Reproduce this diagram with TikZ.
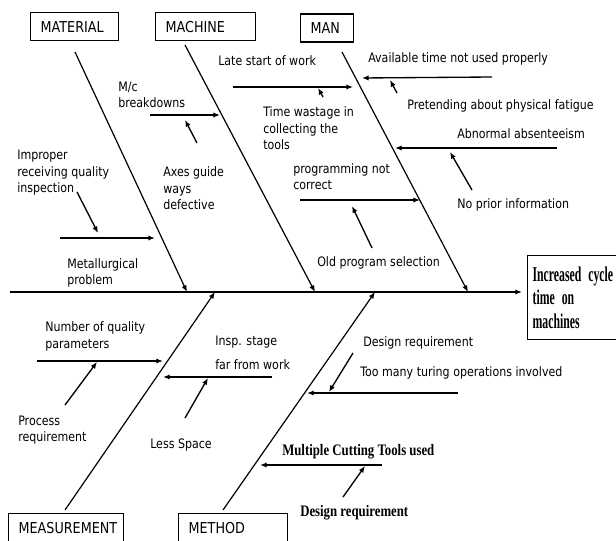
\documentclass[tikz,border=0pt]{standalone}
\usepackage{fontspec}
\newfontfamily\causefont[FakeStretch=0.85]{DejaVu Sans}
\newfontfamily\effectfont[FakeStretch=0.56]{Liberation Serif}
\newfontfamily\notefont[FakeStretch=0.8]{Liberation Serif}
\usetikzlibrary{arrows.meta}

\begin{document}
\begin{tikzpicture}[
    x=0.75pt, y=-0.75pt,
    >={Latex[length=5pt,width=4pt]},
    cause/.style={
        anchor=north west,
        inner sep=0pt,
        align=left,
        font=\causefont\fontsize{9.75pt}{12.4pt}\selectfont
    },
    note/.style={
        anchor=north west,
        inner sep=0pt,
        align=left,
        font=\notefont\bfseries\fontsize{12pt}{14pt}\selectfont
    },
    catbox/.style={
        draw,
        line width=1pt,
        anchor=north west,
        minimum height=21pt,
        inner xsep=7.5pt,
        inner ysep=0pt,
        text width=#1,
        align=left,
        font=\causefont\fontsize{11.25pt}{13pt}\selectfont
    },
    effect/.style={
        draw,
        line width=0.9pt,
        anchor=north west,
        minimum height=63pt,
        text width=75pt,
        inner xsep=3.75pt,
        align=left,
        font=\effectfont\bfseries\fontsize{15.75pt}{17.6pt}\selectfont
    },
    bone/.style={->, line width=0.9pt},
    sub/.style={->, line width=1pt},
    spine/.style={->, line width=1.4pt}
]
\clip (0,0) rectangle (616,541);

% ==================== Category boxes and effect ====================
\node[catbox=51pt]    (material) at (30,12)   {MATERIAL};
\node[catbox=60pt]    (machine)  at (155,12)  {MACHINE};
\node[catbox=24.75pt] (man)      at (300,13.5){MAN};
\node[catbox=71.25pt] (measure)  at (8,513)   {MEASUREMENT};
\node[catbox=66.75pt] (method)   at (178,513) {METHOD};

\node[effect] (effect) at (527,255) {Increased cycle\\time on\\machines};

% ==================== Spine and main bones ====================
\coordinate (spine-start) at (10,292);
\draw[spine] (spine-start) -- (spine-start -| effect.west) [shorten >=3.75pt];

\coordinate (mat-top) at (75,52);   \coordinate (mat-end) at (187,292);
\coordinate (mac-top) at (185,45);  \coordinate (mac-end) at (315,292);
\coordinate (man-top) at (342,52);  \coordinate (man-end) at (468,292);
\coordinate (mea-top) at (65,510);  \coordinate (mea-end) at (215,292);
\coordinate (met-top) at (223,510); \coordinate (met-end) at (375,292);

\foreach \b in {mat,mac,man,mea,met} {
  \draw[bone] (\b-top) -- (\b-end);
}

% ==================== Causes: top half ====================
\node[cause] (improper) at (17,150)    {Improper\\receiving quality\\inspection};
\node[cause] (metal)    at (67,258)    {Metallurgical\\problem};
\node[cause] (mcbreak)  at (118,81.5)  {M/c\\breakdowns};
\node[cause] (axes)     at (163,166.5) {Axes guide\\ways\\defective};
\node[cause] (late)     at (218,55)    {Late start of work};
\node[cause] (wastage)  at (263,106.5) {Time wastage in\\collecting the\\tools};
\node[cause] (progr)    at (293,163)   {programming not\\correct};
\node[cause] (oldprog)  at (317,256.5) {Old program selection};
\node[cause] (avail)    at (368,52)    {Available time not used properly};
\node[cause] (pretend)  at (407,99)    {Pretending about physical fatigue};
\node[cause] (absent)   at (457,128)   {Abnormal absenteeism};
\node[cause] (noprior)  at (457,198)   {No prior information};

% ==================== Causes: bottom half ====================
\node[cause] (numqual)   at (45,321.5) {Number of quality\\parameters};
\node[cause] (process)   at (18,415.5) {Process\\requirement};
\node[cause] (insp)      at (215,336)  {Insp. stage\\[5.6pt]far from work};
\node[cause] (lessspace) at (150,439)  {Less Space};
\node[cause] (design)    at (363,336)  {Design requirement};
\node[cause] (toomany)   at (360,366.5){Too many turing operations involved};
\node[note]  (multiple)  at (282,444)  {Multiple Cutting Tools used};
\node[note]  (designb)   at (300,505)  {Design requirement};

% sub-cause arrows (tail a, tip b)
\coordinate (mat1a) at (60,238);  \coordinate (mat1b) at (155,238);
\coordinate (mat2a) at (77,192);  \coordinate (mat2b) at (98,233);
\coordinate (mac1a) at (150,115); \coordinate (mac1b) at (220,115);
\coordinate (mac2a) at (197,143); \coordinate (mac2b) at (185,120);
\coordinate (man1a) at (233,87);  \coordinate (man1b) at (353,87);
\coordinate (man2a) at (323,97);  \coordinate (man2b) at (318,88);
\coordinate (man3a) at (300,200); \coordinate (man3b) at (420,200);
\coordinate (man4a) at (372,248); \coordinate (man4b) at (352,206);
\coordinate (man5a) at (492,77);  \coordinate (man5b) at (362,78);
\coordinate (man6a) at (397,93);  \coordinate (man6b) at (390,80);
\coordinate (man7a) at (557,148); \coordinate (man7b) at (395,148);
\coordinate (man8a) at (472,190); \coordinate (man8b) at (450,152);
\coordinate (mea1a) at (37,361);  \coordinate (mea1b) at (163,361);
\coordinate (mea2a) at (65,405);  \coordinate (mea2b) at (97,362);
\coordinate (mea3a) at (272,377); \coordinate (mea3b) at (163,377);
\coordinate (mea4a) at (185,418); \coordinate (mea4b) at (208,378);
\coordinate (met1a) at (458,393); \coordinate (met1b) at (307,393);
\coordinate (met2a) at (353,353); \coordinate (met2b) at (329,392);
\coordinate (met3a) at (382,465); \coordinate (met3b) at (260,465);
\coordinate (met4a) at (343,497); \coordinate (met4b) at (365,466);

\foreach \s in {mat1,mat2,mac1,mac2,man1,man2,man3,man4,man5,man6,man7,man8,
                mea1,mea2,mea3,mea4,met1,met2,met3,met4} {
  \draw[sub] (\s a) -- (\s b);
}

\end{tikzpicture}
\end{document}
